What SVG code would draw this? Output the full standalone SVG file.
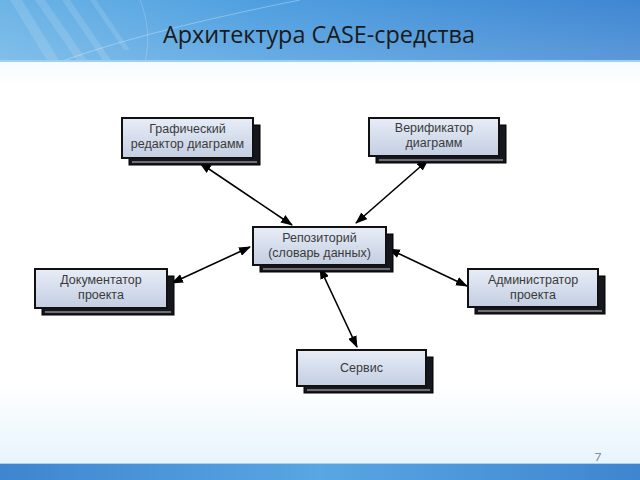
<svg xmlns="http://www.w3.org/2000/svg" width="640" height="480" viewBox="0 0 640 480">
<defs>
<linearGradient id="hdr" x1="0" y1="0" x2="1" y2="0">
<stop offset="0" stop-color="#6cb4e6"/>
<stop offset="0.4" stop-color="#4f9fe0"/>
<stop offset="1" stop-color="#3f86d2"/>
</linearGradient>
<linearGradient id="hdrv" x1="0" y1="0" x2="0" y2="1">
<stop offset="0" stop-color="#ffffff" stop-opacity="0"/>
<stop offset="1" stop-color="#ffffff" stop-opacity="0.15"/>
</linearGradient>
<linearGradient id="body" x1="0" y1="0" x2="0" y2="1">
<stop offset="0" stop-color="#dcf0fb"/>
<stop offset="0.18" stop-color="#ffffff"/>
<stop offset="0.8" stop-color="#ffffff"/>
<stop offset="1" stop-color="#e2f2fc"/>
</linearGradient>
<linearGradient id="ftr" x1="0" y1="0" x2="1" y2="0">
<stop offset="0" stop-color="#3f85cf"/>
<stop offset="0.5" stop-color="#58a6e4"/>
<stop offset="1" stop-color="#3f85cf"/>
</linearGradient>
<linearGradient id="box" x1="0" y1="0" x2="0" y2="1">
<stop offset="0" stop-color="#e8edf7"/>
<stop offset="1" stop-color="#c3cee2"/>
</linearGradient>
<marker id="ah" viewBox="0 0 12 9" refX="11" refY="4.5" markerWidth="12" markerHeight="9" markerUnits="userSpaceOnUse" orient="auto-start-reverse">
<path d="M0,0 L12,4.5 L0,9 Z" fill="#000"/>
</marker>
</defs>
<style>
.front{fill:url(#box);stroke:#111;stroke-width:2}
.shadow{fill:#16161f;stroke:#000;stroke-width:1}
.sl{stroke:#c8c8c8;stroke-width:1}
.lbl{font-family:"Liberation Sans",Arial,sans-serif;font-size:12.5px;fill:#3a3a3a;text-anchor:middle}
.conn{stroke:#000;stroke-width:1.6;fill:none;marker-start:url(#ah);marker-end:url(#ah)}
</style>
<!-- background -->
<rect x="0" y="0" width="640" height="480" fill="url(#body)"/>
<rect x="0" y="0" width="640" height="62" fill="url(#hdr)"/>
<rect x="0" y="0" width="640" height="62" fill="url(#hdrv)"/>
<g fill="#ffffff" opacity="0.12">
<polygon points="10,0 22,0 60,62 48,62"/>
<polygon points="35,0 45,0 88,62 78,62"/>
<polygon points="62,0 70,0 112,62 104,62"/>
<polygon points="90,0 96,0 130,50 124,50"/>
</g>
<path d="M60,62 C120,40 200,20 300,0" stroke="#ffffff" stroke-opacity="0.3" fill="none"/>
<path d="M145,62 C150,40 148,20 140,0" stroke="#ffffff" stroke-opacity="0.2" fill="none"/>
<rect x="0" y="60" width="640" height="2" fill="#9fd0f2"/>
<rect x="0" y="464" width="640" height="16" fill="url(#ftr)"/>
<rect x="0" y="463" width="640" height="1" fill="#a8d3f0"/>
<text x="163" y="43" font-family="'Open Sans',Lato,sans-serif" font-size="24" fill="#1a1a1a" textLength="312" lengthAdjust="spacingAndGlyphs">Архитектура CASE-средства</text>
<text x="598" y="461" font-family="Lato,'Open Sans',sans-serif" font-size="12" fill="#8a8a8a" text-anchor="middle">7</text>
<!-- connectors -->
<g id="connectors">
<line class="conn" x1="200" y1="163" x2="292" y2="225"/>
<line class="conn" x1="428" y1="160" x2="356" y2="223"/>
<line class="conn" x1="172" y1="283" x2="250" y2="247"/>
<line class="conn" x1="467" y1="286" x2="389" y2="249"/>
<line class="conn" x1="320" y1="268" x2="357" y2="347"/>
</g>
<!-- nodes -->
<g id="n-graph">
<rect class="shadow" x="129" y="125" width="131" height="40"/>
<line class="sl" x1="132" y1="162" x2="257" y2="162"/>
<rect class="front" x="122" y="118" width="131" height="40"/>
<text class="lbl" x="187.5" y="133">Графический</text>
<text class="lbl" x="187.5" y="148">редактор диаграмм</text>
</g>
<g id="n-verif">
<rect class="shadow" x="376" y="125" width="130" height="38"/>
<line class="sl" x1="379" y1="160" x2="503" y2="160"/>
<rect class="front" x="369" y="118" width="130" height="38"/>
<text class="lbl" x="434" y="132">Верификатор</text>
<text class="lbl" x="434" y="147">диаграмм</text>
</g>
<g id="n-repo">
<rect class="shadow" x="260" y="234" width="133" height="38"/>
<line class="sl" x1="263" y1="269" x2="390" y2="269"/>
<rect class="front" x="253" y="227" width="133" height="38"/>
<text class="lbl" x="319.5" y="242">Репозиторий</text>
<text class="lbl" x="319.5" y="257">(словарь данных)</text>
</g>
<g id="n-doc">
<rect class="shadow" x="42" y="276" width="132" height="39"/>
<line class="sl" x1="45" y1="312" x2="171" y2="312"/>
<rect class="front" x="35" y="269" width="132" height="39"/>
<text class="lbl" x="101" y="284">Документатор</text>
<text class="lbl" x="101" y="299">проекта</text>
</g>
<g id="n-admin">
<rect class="shadow" x="475" y="276" width="130" height="38"/>
<line class="sl" x1="478" y1="311" x2="602" y2="311"/>
<rect class="front" x="468" y="269" width="130" height="38"/>
<text class="lbl" x="533" y="284">Администратор</text>
<text class="lbl" x="533" y="299">проекта</text>
</g>
<g id="n-serv">
<rect class="shadow" x="304" y="357" width="129" height="36"/>
<line class="sl" x1="307" y1="390" x2="430" y2="390"/>
<rect class="front" x="297" y="350" width="129" height="36"/>
<text class="lbl" x="361.5" y="372">Сервис</text>
</g>
</svg>
